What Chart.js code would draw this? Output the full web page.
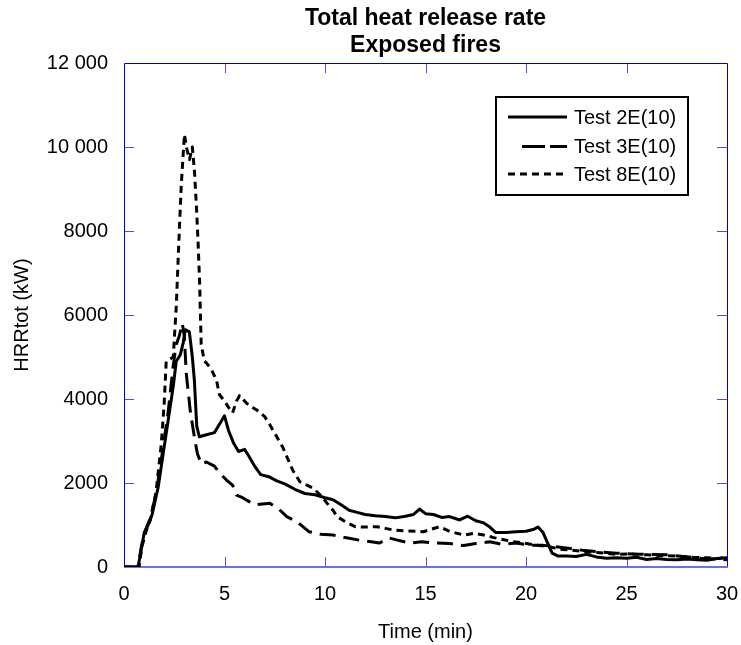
<!DOCTYPE html>
<html>
<head>
<meta charset="utf-8">
<script src="https://cdn.jsdelivr.net/npm/chart.js@4/dist/chart.umd.min.js"></script>
<style>
  html, body { margin: 0; padding: 0; background: #fff; }
  canvas { display: block; }
</style>
</head>
<body>
<canvas id="hrrChart" width="741" height="645"></canvas>
<script>
// Titres et libellés
const titleLines = ['Total heat release rate', 'Exposed fires'];
const xTitle = 'Time (min)';
const yTitle = 'HRRtot (kW)';
const seriesNames = ['Test 2E(10)', 'Test 3E(10)', 'Test 8E(10)'];

// Test 2E(10) - trait plein
const time2E = [0, 0.7, 0.85, 1.0, 1.2, 1.4, 1.7, 1.95, 2.2, 2.45, 2.6, 2.8, 2.95, 3.05, 3.25, 3.4, 3.5, 3.62, 3.75, 4.1, 4.5, 4.75, 5.0, 5.2, 5.45, 5.7, 6.0, 6.2, 6.5, 6.8, 7.2, 7.6, 8.0, 8.5, 9.0, 9.5, 10.0, 10.4, 10.8, 11.2, 11.6, 12.0, 12.5, 13.0, 13.5, 14.0, 14.4, 14.7, 15.0, 15.4, 15.8, 16.2, 16.7, 17.1, 17.5, 17.9, 18.2, 18.5, 19.0, 19.5, 20.0, 20.4, 20.6, 20.85, 21.05, 21.3, 21.6, 22.0, 22.5, 23.0, 23.5, 24.0, 24.5, 25.0, 25.5, 26.0, 26.5, 27.0, 27.5, 28.0, 28.5, 29.0, 29.5, 30];
const hrr2E  = [0, 0, 400, 800, 1000, 1250, 1900, 2700, 3500, 4300, 4900, 5050, 5350, 5650, 5600, 5000, 4450, 3350, 3100, 3150, 3200, 3400, 3600, 3250, 2950, 2750, 2800, 2650, 2400, 2200, 2150, 2050, 1980, 1850, 1750, 1720, 1650, 1600, 1480, 1350, 1300, 1250, 1220, 1200, 1170, 1210, 1250, 1380, 1270, 1250, 1180, 1200, 1120, 1210, 1100, 1050, 950, 820, 820, 840, 850, 900, 950, 820, 600, 330, 260, 260, 250, 300, 240, 210, 220, 210, 230, 180, 200, 180, 170, 190, 170, 160, 200, 220];

// Test 3E(10) - tirets longs
const time3E = [0, 0.7, 0.85, 1.0, 1.3, 1.6, 1.9, 2.2, 2.45, 2.6, 2.75, 2.9, 3.0, 3.1, 3.3, 3.5, 3.65, 3.85, 4.1, 4.5, 4.75, 5.1, 5.4, 5.6, 5.9, 6.25, 6.5, 6.9, 7.25, 7.7, 8.1, 8.6, 9.2, 9.8, 10.4, 11.0, 11.7, 12.3, 12.7, 13.2, 13.6, 14.2, 14.8, 15.5, 16.2, 16.9, 17.5, 18.2, 18.8, 19.5, 20.2, 20.8, 21.5, 22.0, 22.8, 23.7, 24.5, 25.3, 26.2, 27.0, 27.8, 28.7, 29.4, 30];
const hrr3E  = [0, 0, 450, 800, 1150, 1750, 2700, 3700, 4800, 5300, 5500, 5800, 5500, 4600, 3700, 3100, 2700, 2450, 2500, 2400, 2240, 2070, 1950, 1710, 1650, 1550, 1480, 1500, 1520, 1380, 1200, 1080, 840, 780, 760, 700, 640, 600, 570, 690, 640, 570, 600, 570, 560, 510, 560, 600, 540, 570, 520, 520, 480, 450, 400, 360, 330, 310, 300, 290, 250, 210, 190, 170];

// Test 8E(10) - tirets courts
const time8E = [0, 0.75, 0.9, 1.1, 1.3, 1.6, 1.85, 2.0, 2.1, 2.3, 2.45, 2.6, 2.75, 2.85, 2.92, 3.01, 3.1, 3.26, 3.4, 3.51, 3.6, 3.68, 3.76, 3.84, 4.0, 4.1, 4.35, 4.6, 4.75, 5.0, 5.2, 5.4, 5.6, 5.75, 6.1, 6.4, 6.6, 7.0, 7.3, 7.6, 7.9, 8.1, 8.4, 8.75, 9.1, 9.4, 9.8, 10.1, 10.4, 10.6, 11.0, 11.5, 12.0, 12.6, 13.0, 13.4, 14.0, 14.5, 14.9, 15.3, 15.7, 16.2, 16.9, 17.4, 17.9, 18.4, 18.9, 19.4, 19.9, 20.5, 21.2, 21.7, 22.3, 23.0, 23.7, 24.5, 25.3, 26.0, 26.8, 27.5, 28.3, 29.0, 29.6, 30];
const hrr8E  = [0, 0, 500, 850, 1100, 1800, 2900, 3900, 4900, 4950, 5000, 6200, 8000, 9100, 9650, 10300, 10000, 9700, 10000, 9400, 8600, 7800, 6800, 5300, 4900, 4860, 4700, 4450, 4100, 3950, 3800, 3670, 3950, 4080, 3900, 3800, 3740, 3580, 3350, 3100, 2850, 2630, 2300, 2030, 1950, 1880, 1700, 1520, 1350, 1200, 1080, 960, 950, 960, 920, 880, 860, 850, 840, 900, 960, 850, 760, 800, 760, 700, 650, 600, 570, 520, 480, 420, 400, 360, 340, 300, 310, 290, 270, 260, 230, 220, 200, 250];

// Ticks
const xTicks = [0, 5, 10, 15, 20, 25, 30];
const yTicks = [0, 2000, 4000, 6000, 8000, 10000, 12000];

const FONT = 'Arial, "Liberation Sans", sans-serif';
const FRAME = '#0000cc';
const TICK = '#5050dd';

function toPoints(xs, ys) {
    return xs.map((t, i) => ({ x: t, y: ys[i] }));
}

// Format "12 000" pour les valeurs >= 10000
function formatY(v) {
    return v >= 10000 ? String(v).replace(/\B(?=(\d{3})+(?!\d))/g, ' ') : String(v);
}

// Cadre bleu + graduations intérieures
const framePlugin = {
    id: 'frame',
    beforeDatasetsDraw(chart) {
        const { ctx, chartArea: a, scales: { x, y } } = chart;
        ctx.save();
        ctx.lineWidth = 1;
        ctx.strokeStyle = TICK;
        ctx.beginPath();
        xTicks.slice(1, -1).forEach(v => {
            const px = Math.round(x.getPixelForValue(v)) + 0.5;
            ctx.moveTo(px, a.top); ctx.lineTo(px, a.top + 10);
            ctx.moveTo(px, a.bottom); ctx.lineTo(px, a.bottom - 10);
        });
        yTicks.slice(1, -1).forEach(v => {
            const py = Math.round(y.getPixelForValue(v)) + 0.5;
            ctx.moveTo(a.left, py); ctx.lineTo(a.left + 10, py);
            ctx.moveTo(a.right, py); ctx.lineTo(a.right - 10, py);
        });
        ctx.stroke();
        ctx.strokeStyle = FRAME;
        ctx.beginPath();
        ctx.moveTo(a.left + 0.5, a.bottom);
        ctx.lineTo(a.left + 0.5, a.top + 0.5);
        ctx.lineTo(a.right + 0.5, a.top + 0.5);
        ctx.lineTo(a.right + 0.5, a.bottom);
        ctx.stroke();
        ctx.strokeStyle = '#6e6ee6';
        ctx.lineWidth = 2;
        ctx.beginPath();
        ctx.moveTo(a.left, a.bottom);
        ctx.lineTo(a.right + 1, a.bottom);
        ctx.stroke();
        ctx.restore();
    },
    afterDraw(chart) {
        const { ctx, chartArea: a } = chart;
        ctx.save();
        // titre
        ctx.fillStyle = '#000';
        ctx.font = 'bold 23px ' + FONT;
        ctx.textAlign = 'center';
        ctx.textBaseline = 'middle';
        const cx = (a.left + a.right) / 2;
        ctx.fillText(titleLines[0], cx, 19);
        ctx.fillText(titleLines[1], cx, 45.5);

        // légende encadrée
        ctx.lineWidth = 2;
        ctx.strokeStyle = '#000';
        ctx.strokeRect(496, 97, 192, 98);
        const rows = [117, 146.5, 174];
        chart.data.datasets.forEach((ds, i) => {
            ctx.beginPath();
            ctx.lineWidth = ds.borderWidth;
            ctx.strokeStyle = ds.borderColor;
            if (i === 1) {
                ctx.setLineDash([23, 5]);
                ctx.moveTo(522, rows[i]);
            } else {
                ctx.setLineDash(ds.borderDash || []);
                ctx.moveTo(508, rows[i]);
            }
            ctx.lineTo(567, rows[i]);
            ctx.stroke();
            ctx.setLineDash([]);
            ctx.font = '20px ' + FONT;
            ctx.textAlign = 'left';
            ctx.fillText(ds.label, 574, rows[i] + 1);
        });
        ctx.restore();
    }
};

const ctx = document.getElementById('hrrChart').getContext('2d');

new Chart(ctx, {
    type: 'line',
    data: {
        datasets: [
            { label: seriesNames[0], data: toPoints(time2E, hrr2E), borderColor: '#000', borderWidth: 3, borderDash: [] },
            { label: seriesNames[1], data: toPoints(time3E, hrr3E), borderColor: '#000', borderWidth: 3, borderDash: [16, 8] },
            { label: seriesNames[2], data: toPoints(time8E, hrr8E), borderColor: '#000', borderWidth: 3, borderDash: [7, 5] }
        ]
    },
    options: {
        responsive: false,
        animation: false,
        devicePixelRatio: 1,
        layout: { padding: { top: 63, right: 14, left: 0, bottom: 0 } },
        elements: {
            point: { radius: 0 },
            line: { tension: 0, fill: false, borderCapStyle: 'butt', borderJoinStyle: 'round' }
        },
        plugins: {
            legend: { display: false },
            title: { display: false },
            tooltip: { enabled: false }
        },
        scales: {
            x: {
                type: 'linear',
                min: 0,
                max: 30,
                afterFit: s => { s.height = 78; s.paddingLeft = 0; s.paddingRight = 0; },
                afterBuildTicks: s => { s.ticks = xTicks.map(v => ({ value: v })); },
                grid: { display: false, drawTicks: false },
                border: { display: false },
                ticks: { color: '#000', font: { family: FONT, size: 20 }, padding: 15, maxRotation: 0 },
                title: { display: true, text: xTitle, color: '#000', font: { family: FONT, size: 20 }, padding: { top: 0, bottom: 1 } }
            },
            y: {
                type: 'linear',
                min: 0,
                max: 12000,
                afterFit: s => { s.width = 124; s.paddingTop = 0; s.paddingBottom = 0; },
                afterBuildTicks: s => { s.ticks = yTicks.map(v => ({ value: v })); },
                grid: { display: false, drawTicks: false },
                border: { display: false },
                ticks: { color: '#000', font: { family: FONT, size: 20 }, padding: 16, callback: v => formatY(v) },
                title: { display: true, text: yTitle, color: '#000', font: { family: FONT, size: 20 }, padding: { top: 10, bottom: 0 } }
            }
        }
    },
    plugins: [framePlugin]
});
</script>
</body>
</html>
